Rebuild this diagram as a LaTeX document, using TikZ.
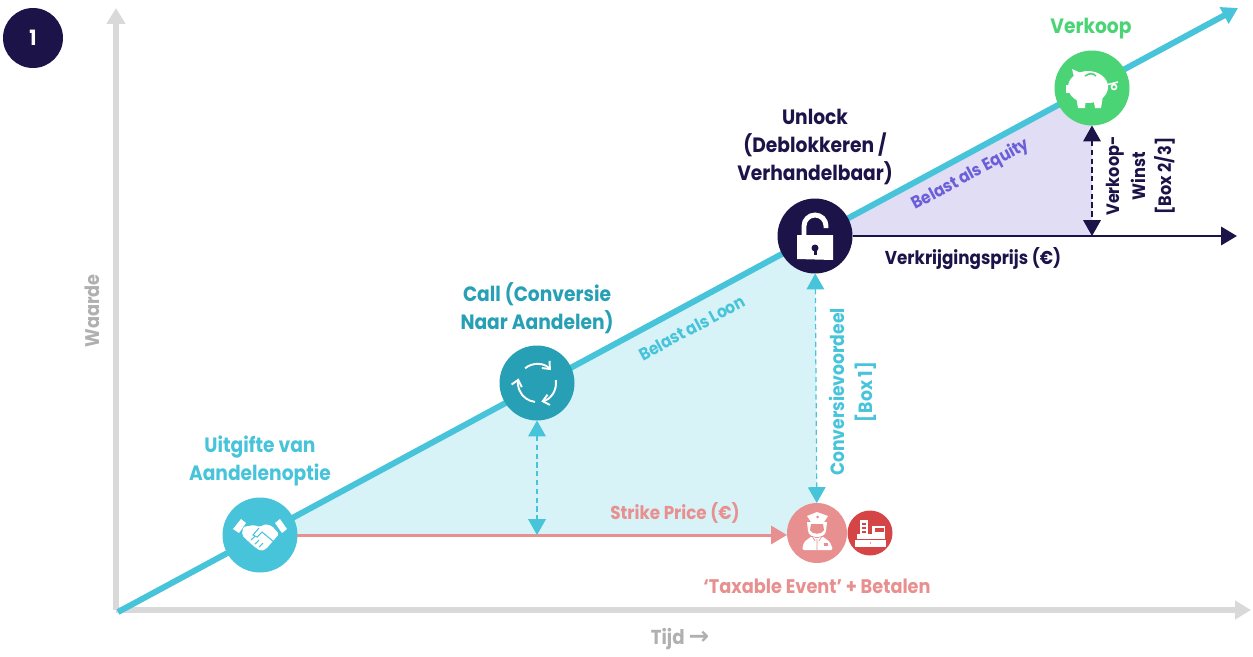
\documentclass[tikz,border=0pt]{standalone}
\usepackage{fontspec}
\setmainfont{Poppins}[FakeStretch=0.9]
\newfontfamily\arrowfont{DejaVu Sans}
\usetikzlibrary{arrows.meta,backgrounds}
\definecolor{teal1}{HTML}{47C4DA}
\definecolor{teal2}{HTML}{279FB5}
\definecolor{tealfill}{HTML}{D8F3F7}
\definecolor{navy1}{HTML}{1C1349}
\definecolor{lavfill}{HTML}{E0DDF5}
\definecolor{purple1}{HTML}{6A5FD8}
\definecolor{green1}{HTML}{4AD475}
\definecolor{salmon1}{HTML}{E89090}
\definecolor{red1}{HTML}{D64545}
\definecolor{grey1}{HTML}{D9D9D9}
\definecolor{grey2}{HTML}{B0B0B0}
\tikzset{
  stage/.style={circle,fill=#1,minimum size=1.5cm,inner sep=0pt,outer sep=0pt},
  lab/.style={text=#1,align=center,inner sep=0pt,font=\bfseries\fontsize{10.6}{16.2}\selectfont},
  big/.style={text=#1,align=center,inner sep=0pt,font=\bfseries\fontsize{11.8}{16.2}\selectfont},
  small/.style={text=#1,inner sep=0pt,font=\bfseries\fontsize{9.8}{11}\selectfont,rotate=28.4},
  thick1/.style={line width=3.4pt,-{Triangle[width=10.2pt,length=9pt]}},
  thin1/.style={line width=1.7pt,-{Triangle[width=10.2pt,length=9pt]}},
  gap1/.style={line width=0.7pt,dash pattern=on 3pt off 2pt,{Triangle[width=10pt,length=9pt]}-{Triangle[width=10pt,length=9pt]}}
}
\begin{document}
\begin{tikzpicture}[x=0.02cm,y=-0.02cm]
\useasboundingbox (0,0) rectangle (1253,656);
\coordinate (o) at (116,610);
\coordinate (ytip) at (116,8);
\coordinate (xtip) at (1251,610);
\coordinate (a0) at (118,612);
\coordinate (a1) at (1238,8);
\coordinate (b1) at (1237,236);
\node[stage=teal1] (s1) at (260,535) {};
\node[stage=teal2] (s2) at (537,383) {};
\node[stage=navy1] (s3) at (815,236) {};
\node[stage=green1] (s4) at (1092,88) {};
\node[circle,fill=salmon1,minimum size=1.2cm,inner sep=0pt,outer sep=0pt] (e1) at (817,533) {};
\node[circle,fill=red1,minimum size=0.9cm,inner sep=0pt] (e2) at (870,533) {};
\node[circle,fill=navy1,minimum size=1.2cm,inner sep=0pt,text=white,font=\bfseries\fontsize{12}{14}\selectfont] (n1) at (33,38) {1};
\begin{scope}[on background layer]
\fill[tealfill] (s1.center) -- (s1.center -| e1) -- (s3.center) -- cycle;
\fill[lavfill] (s3.center) -- (s4.center) -- (s4.center |- s3.center) -- cycle;
\draw[grey1,thick1] (o) -- (ytip);
\draw[grey1,thick1] (o) -- (xtip);
\draw[teal1,thick1] (a0) -- (a1);
\end{scope}
\draw[navy1,thin1] (s3) -- (b1);
\draw[salmon1,thin1] (s1) -- (s1 -| e1.west);
\draw[teal1,gap1] (s2) -- (s2 |- s1);
\draw[teal1,gap1] (s3) -- (e1);
\draw[navy1,gap1] (s4) -- (s4 |- s3);
% labels
\node[big=green1] (l4) at (1091,29) {Verkoop};
\node[big=navy1] (l3) at (815,147) {Unlock\\(Deblokkeren /\\Verhandelbaar)};
\node[big=teal2] (l2) at (537,308) {Call (Conversie\\Naar Aandelen)};
\node[big=teal1] (l1) at (260,461) {Uitgifte van\\Aandelenoptie};
\node[lab=salmon1] (l5) at (675,513) {Strike Price (€)};
\node[lab=salmon1,font=\bfseries\fontsize{11.2}{14}\selectfont] (l6) at (817,586) {‘Taxable Event’ + Betalen};
\node[lab=navy1] (l7) at (973,259) {Verkrijgingsprijs (€)};
\node[lab=grey2,font=\bfseries\fontsize{11.5}{14}\selectfont] (l8) at (680,639) {Tijd {\arrowfont\fontsize{14}{14}\selectfont →}};
\node[lab=grey2,rotate=90,font=\bfseries\fontsize{11.2}{14}\selectfont] (l9) at (92,311) {Waarde};
\node[lab=navy1,rotate=90,font=\bfseries\fontsize{10.2}{14.8}\selectfont] (l10) at (1141,176) {Verkoop-\\Winst\\{}[Box 2/3]};
\node[lab=teal1,rotate=90,font=\bfseries\fontsize{10.9}{15.6}\selectfont] (l11) at (853,392) {Conversievoordeel\\{}[Box 1]};
\node[small=purple1] (l12) at (971,175) {Belast als Equity};
\node[small=teal1] (l13) at (692,328) {Belast als Loon};
% handshake
\begin{scope}[shift={(s1)}]
\fill[white] (-27,-6) -- (-19,-16) -- (-14,-12) -- (-21,-2) -- cycle;
\fill[white] (27,-6) -- (20,-16) -- (15,-12) -- (22,-2) -- cycle;
\fill[white,rounded corners=1pt] (-17,-8) -- (-6,-10) -- (0,-8) -- (5,-11) -- (12,-9) -- (19,-1) -- (13,6) -- (6,14) -- (1,16) -- (-4,13) -- (-11,7) -- (-18,0) -- cycle;
\draw[teal1,line width=0.6pt] (-1,-7) -- (-7,0) -- (-3,2) -- (2,-3) -- (14,7);
\draw[teal1,line width=0.6pt] (-9,5) -- (-5,1) (-5,9) -- (-1,5) (-1,12) -- (3,8);
\end{scope}
% call
\begin{scope}[shift={(s2)},every path/.style={white,line width=1.1pt,-{Straight Barb[length=3.5pt,width=6pt]}}]
\draw (231:19) arc[start angle=231,end angle=317,radius=19];
\draw (351:19) arc[start angle=351,end angle=437,radius=19];
\draw (96:19) arc[start angle=96,end angle=194,radius=19];
\end{scope}
% lock
\begin{scope}[shift={(s3)}]
\fill[white] (-18,-1) -- (18,-1) -- (18,24) -- (-18,23) -- cycle;
\draw[white,line width=2.8pt] (-11,0) -- (-11,-10) arc[start angle=180,end angle=360,radius=11] -- (11,-8);
\fill[navy1] (0,12) circle[radius=3.5];
\fill[navy1] (-1.5,12) rectangle (1.5,19);
\end{scope}
% piggy
\begin{scope}[shift={(s4)}]
\fill[white] (-4,-1) ellipse[x radius=20,y radius=16];
\fill[white] (-20,-19) -- (-9,-14) -- (-17,-7) -- cycle;
\fill[white] (-26,-3) rectangle (-18,5);
\fill[white] (-16,8) -- (-6,8) -- (-7,20) -- (-14,20) -- cycle;
\fill[white] (1,8) -- (11,8) -- (9,20) -- (3,20) -- cycle;
\draw[green1,line width=0.9pt] (-7,-12) .. controls (-3,-15) and (1,-15) .. (4,-12);
\draw[white,line width=0.9pt] (14,-3) -- (26,-6);
\draw[white,line width=0.9pt] (22,-1) circle[radius=2.5];
\end{scope}
% officer
\begin{scope}[shift={(e1)}]
\fill[white,rounded corners=1pt] (-15,17) -- (-13,9) -- (-5,3) -- (0,6) -- (5,3) -- (13,9) -- (16,17) -- cycle;
\fill[white] (-10,-11) -- (10,-11) -- (9,-2) .. controls (8,6) and (-8,6) .. (-9,-2) -- cycle;
\fill[salmon1] (-6,-9) -- (6,-9) -- (7,-3) .. controls (5,2) and (-5,2) .. (-7,-3) -- cycle;
\fill[white] (-10,-17) -- (0,-21) -- (11,-17) -- (7,-11) -- (-6,-11) -- cycle;
\fill[salmon1] (0.5,-16) circle[radius=1.5];
\draw[salmon1,line width=0.4pt] (0,6) -- (0,17) (-5,3) -- (-2,8) (5,3) -- (2,8);
\fill[salmon1] (7,10) rectangle (11,13);
\end{scope}
% register
\begin{scope}[shift={(e2)}]
\fill[white] (-15,7) rectangle (16,13.5);
\fill[white] (-13,1) rectangle (15,6);
\fill[white] (-10,-13) rectangle (-2,1);
\fill[white] (2,-7) rectangle (15,1);
\fill[red1] (-8,-10) rectangle (-4,-8);
\fill[red1] (-8,-6) rectangle (-4,-4);
\fill[red1] (-8,-2) rectangle (-4,0);
\fill[red1] (5,-5) rectangle (14,-1);
\fill[red1] (0.5,10) circle[radius=0.7];
\end{scope}
\end{tikzpicture}
\end{document}
